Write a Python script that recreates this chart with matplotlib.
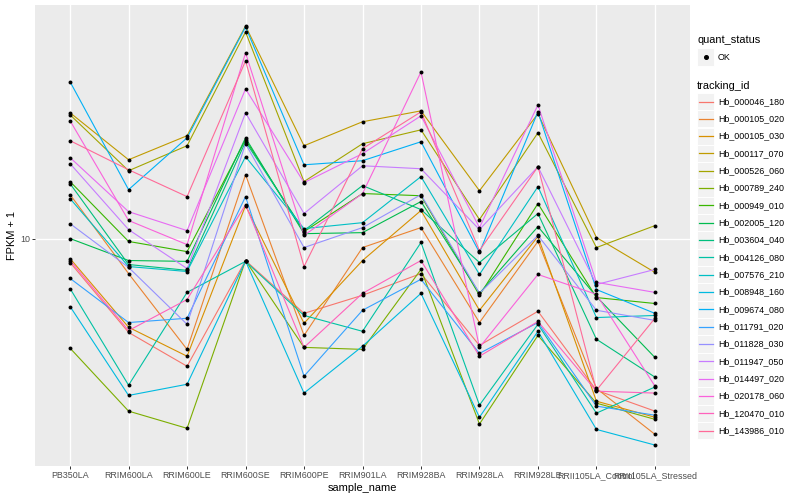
import matplotlib
matplotlib.use("Agg")
import matplotlib.pyplot as plt
from matplotlib.patches import Rectangle
from matplotlib.lines import Line2D
import numpy as np

plt.rcParams['font.family'] = ['Liberation Sans', 'DejaVu Sans']

samples = ["PB350LA", "RRIM600LA", "RRIM600LE", "RRIM600SE", "RRIM600PE",
           "RRIM901LA", "RRIM928BA", "RRIM928LA", "RRIM928LE",
           "RRII105LA_Control", "RRII105LA_Stressed"]

tracking_ids = ["Hb_000046_180", "Hb_000105_020", "Hb_000105_030", "Hb_000117_070",
                "Hb_000526_060", "Hb_000789_240", "Hb_000949_010", "Hb_002005_120",
                "Hb_003604_040", "Hb_004126_080", "Hb_007576_210", "Hb_008948_160",
                "Hb_009674_080", "Hb_011791_020", "Hb_011828_030", "Hb_011947_050",
                "Hb_014497_020", "Hb_020178_060", "Hb_120470_010", "Hb_143986_010"]

colors = ["#F8766D", "#EA8331", "#D89000", "#C09B00", "#A3A500", "#7CAE00",
          "#39B600", "#00BB4E", "#00BF7D", "#00C1A3", "#00BFC4", "#00BAE0",
          "#00B0F6", "#35A2FF", "#9590FF", "#C77CFF", "#E76BF3", "#FA62DB",
          "#FF62BC", "#FF6A98"]

# FPKM + 1 per sample (order as in `samples`)
hb_000046_180 = [9.12, 6.97, 6.12, 9.19, 7.50, 8.04, 8.74, 6.63, 7.56, 5.58, 5.15]
hb_000105_020 = [11.84, 8.74, 6.53, 12.78, 6.89, 9.66, 10.43, 7.24, 9.89, 5.62, 4.71]
hb_000105_030 = [9.26, 7.11, 6.36, 11.35, 7.22, 9.19, 11.14, 7.59, 10.08, 5.35, 5.03]
hb_000117_070 = [16.22, 13.54, 14.85, 22.65, 14.29, 15.67, 16.34, 12.02, 16.16, 10.04, 8.78]
hb_000526_060 = [16.09, 12.98, 14.29, 22.13, 12.45, 14.40, 15.19, 10.76, 15.02, 9.66, 10.51]
hb_000789_240 = [6.56, 5.15, 4.82, 9.19, 6.58, 6.53, 8.88, 4.90, 6.89, 5.31, 4.99]
hb_000949_010 = [12.45, 9.89, 9.51, 14.62, 10.27, 11.89, 11.79, 8.04, 11.44, 7.97, 7.79]
hb_002005_120 = [10.00, 9.19, 9.16, 14.73, 10.19, 10.23, 11.53, 8.10, 10.47, 8.00, 6.33]
hb_003604_040 = [12.35, 9.05, 8.85, 14.51, 10.31, 12.26, 11.18, 9.12, 11.01, 6.79, 5.87]
hb_004126_080 = [8.25, 5.69, 8.13, 9.16, 7.44, 7.00, 9.85, 5.27, 7.19, 5.11, 5.65]
hb_007576_210 = [11.66, 8.98, 8.81, 13.70, 10.39, 10.63, 12.69, 8.71, 12.21, 7.38, 7.44]
hb_008948_160 = [7.70, 5.47, 5.71, 9.17, 5.52, 6.61, 8.10, 5.03, 7.00, 4.80, 4.52]
hb_009674_080 = [18.27, 12.07, 14.73, 22.56, 13.28, 13.49, 14.51, 9.48, 16.28, 8.22, 7.50]
hb_011791_020 = [8.58, 7.24, 7.36, 11.75, 5.89, 7.59, 8.55, 6.43, 7.24, 5.25, 5.07]
hb_011828_030 = [10.59, 8.95, 7.19, 14.40, 9.66, 10.43, 11.84, 8.10, 10.12, 7.59, 7.30]
hb_011947_050 = [13.34, 10.35, 8.91, 16.22, 11.01, 13.23, 13.08, 10.35, 13.18, 8.38, 8.88]
hb_014497_020 = [13.65, 11.09, 10.31, 17.78, 12.40, 13.86, 16.03, 10.43, 16.72, 8.45, 8.13]
hb_020178_060 = [15.73, 10.72, 9.77, 20.42, 10.12, 11.89, 18.98, 6.58, 8.71, 8.07, 5.67]
hb_120470_010 = [9.19, 7.02, 7.91, 11.39, 6.58, 8.10, 9.19, 6.36, 7.27, 5.56, 5.52]
hb_143986_010 = [14.57, 13.03, 11.75, 19.80, 8.98, 14.13, 16.28, 9.55, 13.18, 5.58, 7.36]

series = [hb_000046_180, hb_000105_020, hb_000105_030, hb_000117_070, hb_000526_060,
          hb_000789_240, hb_000949_010, hb_002005_120, hb_003604_040, hb_004126_080,
          hb_007576_210, hb_008948_160, hb_009674_080, hb_011791_020, hb_011828_030,
          hb_011947_050, hb_014497_020, hb_020178_060, hb_120470_010, hb_143986_010]

W, H = 800, 500
fig = plt.figure(figsize=(8, 5), dpi=100)
fig.patch.set_facecolor("white")

def fx(px):
    return px / W

def fy(py):
    return 1 - py / H

ax = fig.add_axes([fx(35), fy(466), fx(690) - fx(35), fy(5) - fy(466)])
ax.set_facecolor("#EBEBEB")
for s in ax.spines.values():
    s.set_visible(False)

x = np.arange(len(samples))
for vals, c in zip(series, colors):
    ax.plot(x, vals, color=c, lw=0.8, zorder=2, solid_capstyle="butt")
for vals in series:
    ax.scatter(x, vals, s=8, color="black", zorder=3, linewidths=0)

ax.set_yscale("log")
allv = np.log10(np.concatenate([np.array(v) for v in series]))
lo, hi = allv.min(), allv.max()
pad = (hi - lo) * 0.05
ax.set_ylim(10 ** (lo - pad), 10 ** (hi + pad))
ax.set_xlim(-0.6, len(samples) - 0.4)

ax.set_yticks([10])
ax.set_yticklabels(["10"])
ax.yaxis.set_minor_locator(matplotlib.ticker.NullLocator())
ax.set_xticks(x)
ax.set_xticklabels(samples)

ax.grid(True, which="major", color="white", lw=1.0, zorder=0)
ax.set_axisbelow(True)
ax.tick_params(axis="both", length=2.0, width=0.7, color="#333333",
               labelcolor="#4D4D4D", labelsize=6.4, pad=1.6)

ax.set_xlabel("sample_name", fontsize=7.9, color="black", labelpad=2)
ax.set_ylabel("FPKM + 1", fontsize=7.9, color="black", labelpad=2.5)

# Legend (drawn manually, ggplot style)
fig.text(fx(697), fy(40), "quant_status", fontsize=7.9, ha="left", va="center")
key_h = 17.3
def key_box(yc):
    fig.add_artist(Rectangle((fx(697), fy(yc + key_h / 2)), fx(714) - fx(697),
                             fy(yc - key_h / 2) - fy(yc + key_h / 2),
                             transform=fig.transFigure, facecolor="#F2F2F2",
                             edgecolor="white", lw=0.7))

key_box(57)
fig.add_artist(Line2D([fx(705.5)], [fy(57)], marker="o", markersize=2.6,
                      color="black", transform=fig.transFigure, lw=0))
fig.text(fx(718), fy(57), "OK", fontsize=6.4, ha="left", va="center")

fig.text(fx(697), fy(86), "tracking_id", fontsize=7.9, ha="left", va="center")
for i, (tid, c) in enumerate(zip(tracking_ids, colors)):
    yc = 101.5 + i * 17.33
    key_box(yc)
    fig.add_artist(Line2D([fx(698.5), fx(712.5)], [fy(yc), fy(yc)], color=c,
                          lw=0.9, transform=fig.transFigure))
    fig.text(fx(718), fy(yc), tid, fontsize=6.4, ha="left", va="center")

fig.savefig("out.png", dpi=100)
